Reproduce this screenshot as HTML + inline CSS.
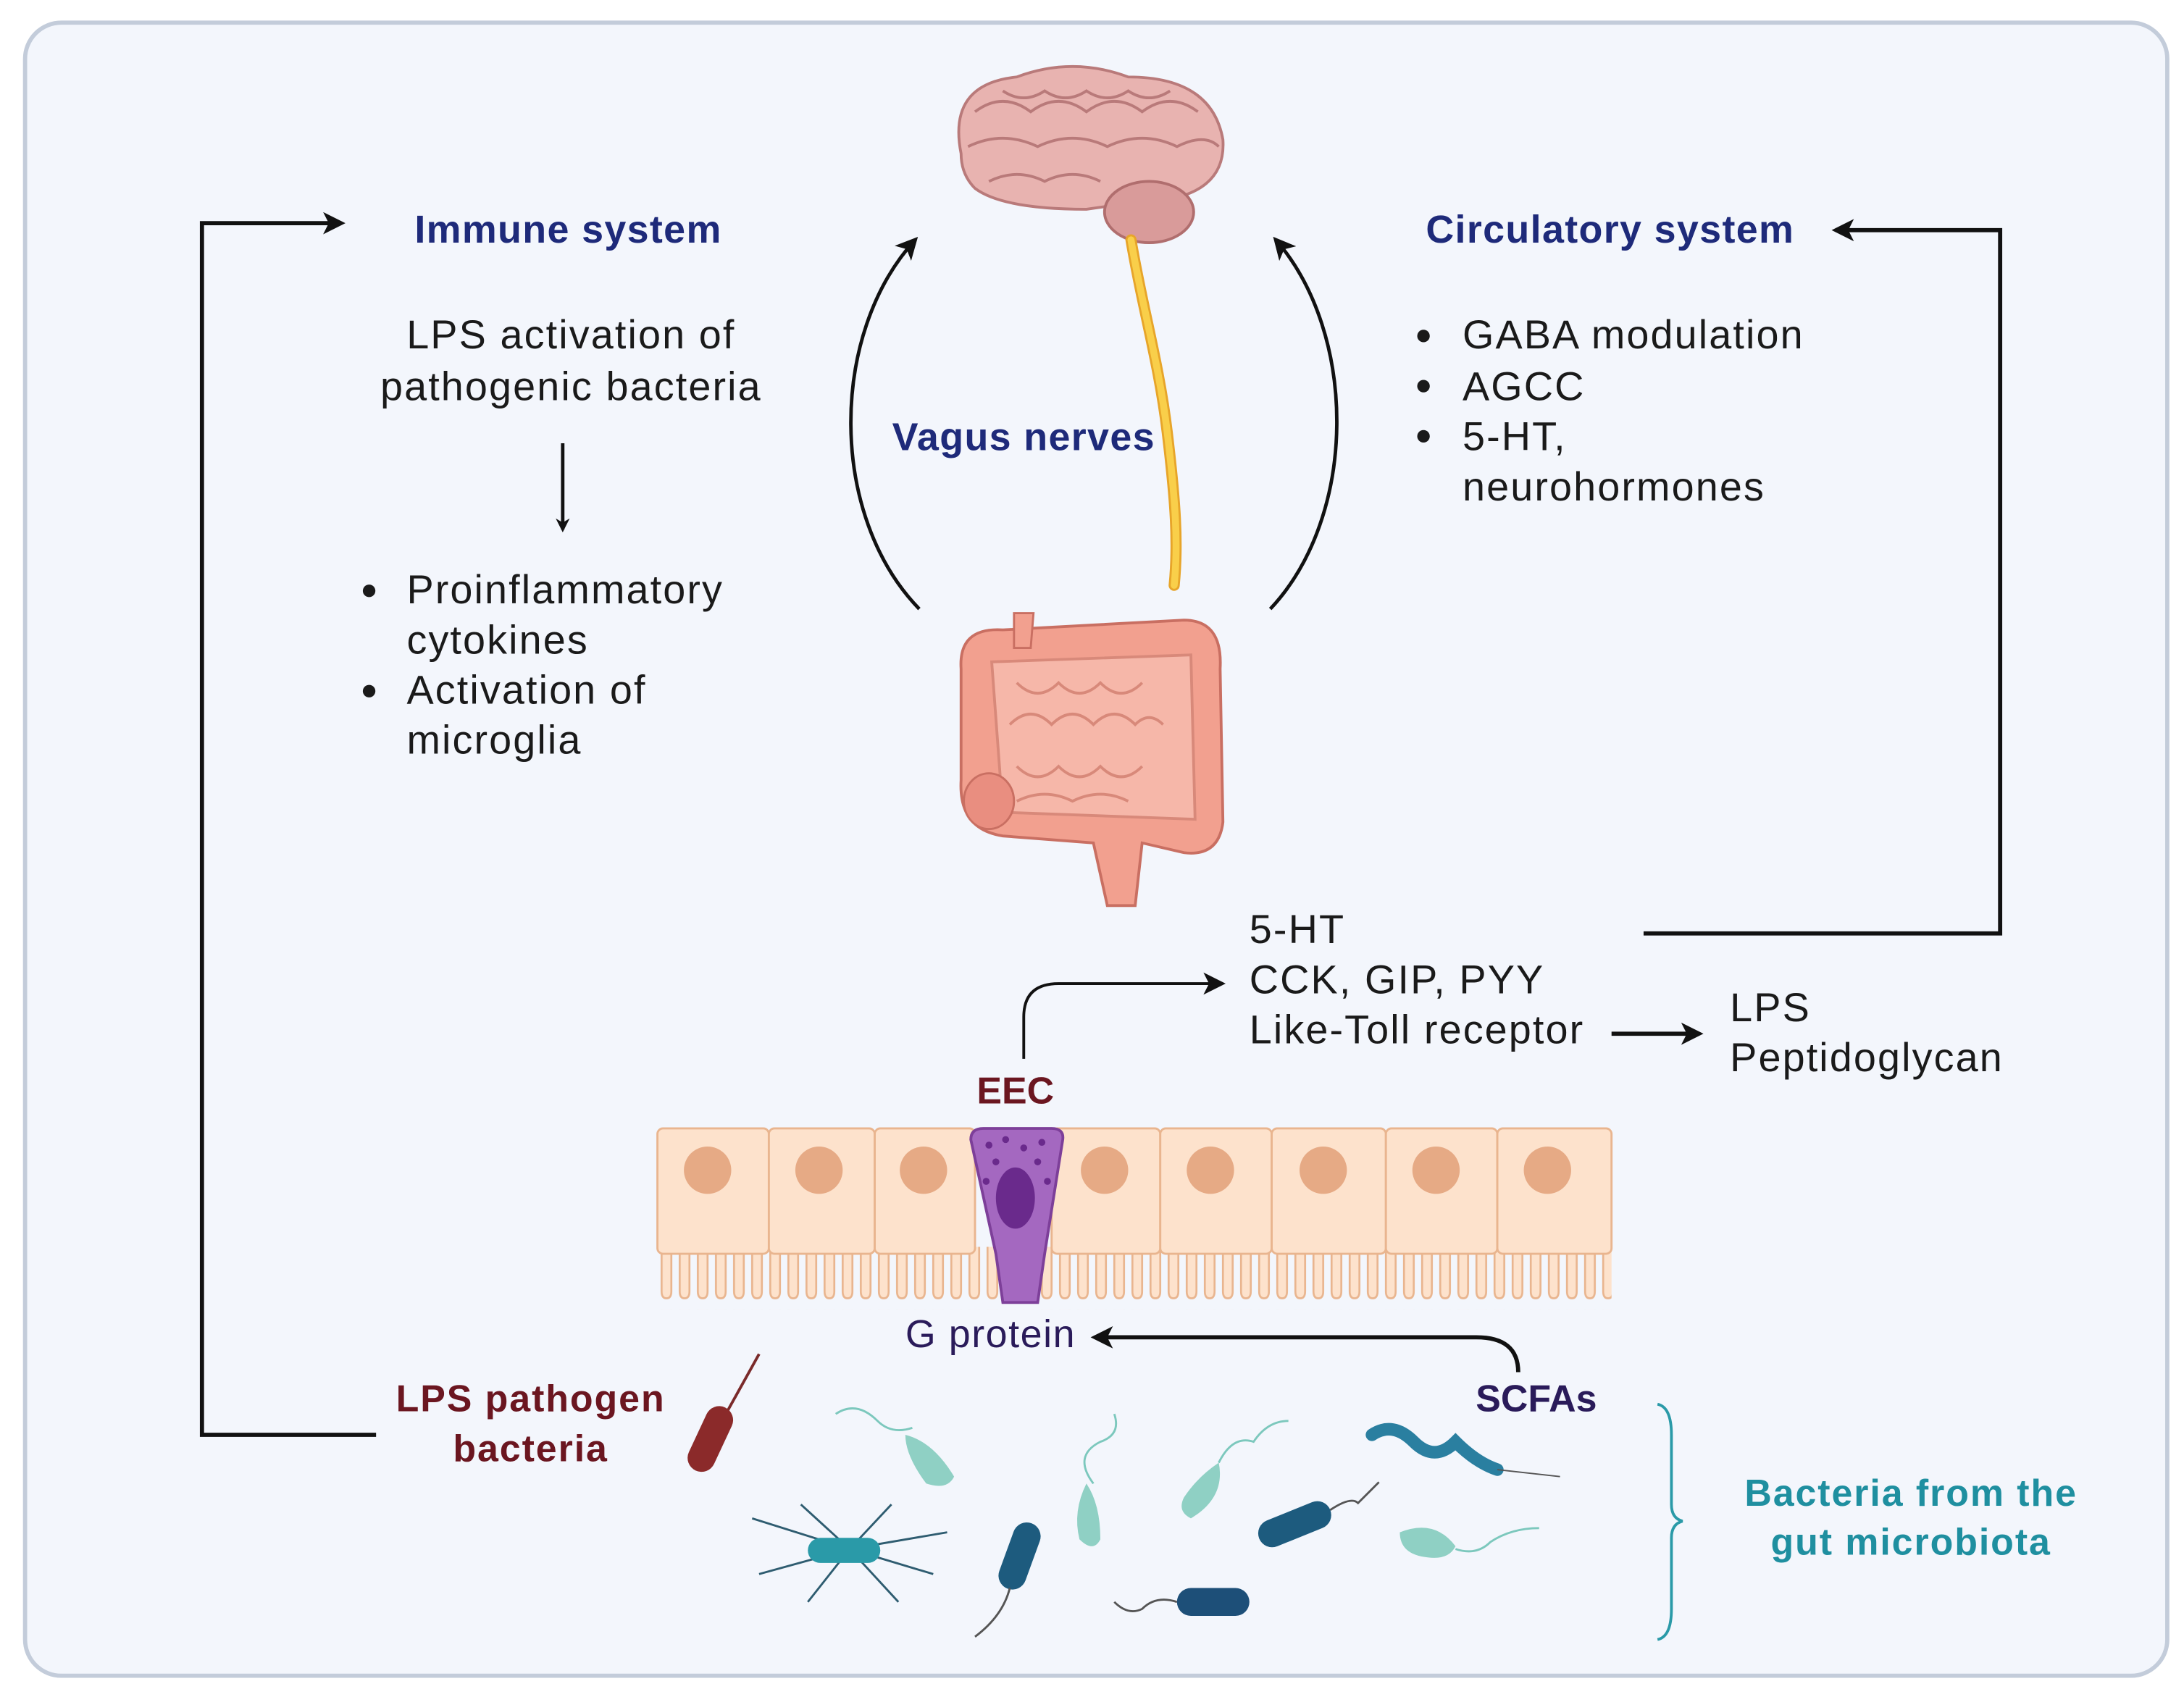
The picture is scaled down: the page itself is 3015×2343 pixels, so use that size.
<!DOCTYPE html>
<html><head><meta charset="utf-8"><style>
html,body{margin:0;padding:0;background:#fff}
svg{display:block}
text{font-family:"Liberation Sans",sans-serif}
</style></head><body>
<svg width="3015" height="2343" viewBox="0 0 1568 1218" xmlns="http://www.w3.org/2000/svg">
<defs>
<marker id="ah" markerWidth="10" markerHeight="10" refX="8" refY="5" orient="auto" markerUnits="userSpaceOnUse"><path d="M0,0 L10,5 L0,10 L3,5 Z" fill="#111"/></marker>
<marker id="ah2" markerWidth="16" markerHeight="16" refX="13" refY="8" orient="auto" markerUnits="userSpaceOnUse"><path d="M0,0 L16,8 L0,16 L4,8 Z" fill="#111"/></marker>
<pattern id="villi" x="472" y="895" width="13" height="45" patternUnits="userSpaceOnUse">
<path d="M3,0 L3,32 Q3,37 6.5,37 Q10,37 10,32 L10,0" fill="#fde2cc" stroke="#e9b58f" stroke-width="1.4"/>
</pattern>
</defs>
<rect x="18" y="16" width="1538" height="1187" rx="26" fill="#f3f6fc" stroke="#c3ccda" stroke-width="3"/>

<!-- brain -->
<path d="M690,110 Q680,60 730,55 Q770,40 810,55 Q870,55 878,100 Q880,130 850,140 L780,150 Q720,150 700,135 Q690,125 690,110Z" fill="#e8b3b0" stroke="#b97a7a" stroke-width="2"/>
<path d="M700,80 q20,-15 40,0 q20,-15 40,0 q20,-15 40,0 q20,-15 40,0 M695,105 q25,-12 50,0 q25,-12 50,0 q25,-12 50,0 q20,-10 30,0 M720,65 q15,10 30,0 q15,10 30,0 q15,10 30,0 q15,10 30,0 M710,130 q20,-10 40,0 q20,-10 40,0" fill="none" stroke="#b97a7a" stroke-width="2"/>
<ellipse cx="825" cy="152" rx="32" ry="22" fill="#d99b9a" stroke="#b06e6e" stroke-width="2"/>
<path d="M812,172 C820,220 832,260 838,310 C844,360 846,390 843,420" fill="none" stroke="#e7a52a" stroke-width="8" stroke-linecap="round"/>
<path d="M812,172 C820,220 832,260 838,310 C844,360 846,390 843,420" fill="none" stroke="#f9cf4a" stroke-width="5" stroke-linecap="round"/>

<!-- gut -->
<path d="M690,480 Q688,450 720,452 L850,445 Q878,445 876,480 L878,590 Q875,615 850,612 L820,605 L815,650 L795,650 L785,605 L720,600 Q688,595 690,560 Z" fill="#f2a08f" stroke="#c96f62" stroke-width="2"/>
<path d="M728,440 L742,440 L740,465 L728,465Z" fill="#f2a08f" stroke="#c96f62" stroke-width="1.5"/>
<path d="M712,475 L855,470 L858,588 L720,583 Z" fill="#f6b7a9" stroke="#d8897a" stroke-width="2"/>
<path d="M730,490 q15,15 30,0 q15,15 30,0 q15,15 30,0 M725,520 q15,-15 30,0 q15,-15 30,0 q15,-15 30,0 q10,-10 20,0 M730,550 q15,15 30,0 q15,15 30,0 q15,15 30,0 M730,575 q20,-10 40,0 q20,-10 40,0" fill="none" stroke="#d8897a" stroke-width="2"/>
<ellipse cx="710" cy="575" rx="18" ry="20" fill="#e98e80" stroke="#c96f62" stroke-width="1.5"/>

<!-- curved arrows -->
<path d="M660,437 C595,370 595,240 657,172" fill="none" stroke="#111" stroke-width="2.5" marker-end="url(#ah2)"/>
<path d="M912,437 C975,370 975,240 916,172" fill="none" stroke="#111" stroke-width="2.5" marker-end="url(#ah2)"/>

<!-- left/right connectors -->
<path d="M270,1030 L145,1030 L145,160 L245,160" fill="none" stroke="#111" stroke-width="3" marker-end="url(#ah2)"/>
<path d="M1180,670 L1436,670 L1436,165 L1318,165" fill="none" stroke="#111" stroke-width="3" marker-end="url(#ah2)"/>

<g font-weight="bold" fill="#1e2a7a" font-size="28" letter-spacing="0.7">
<text x="408" y="174" text-anchor="middle">Immune system</text>
<text x="1156" y="174" text-anchor="middle">Circulatory system</text>
<text x="735" y="323" text-anchor="middle">Vagus nerves</text>
</g>
<g fill="#1a1a1a" font-size="29" letter-spacing="1.1">
<text x="410" y="250" text-anchor="middle">LPS activation of</text>
<text x="410" y="287" text-anchor="middle">pathogenic bacteria</text>
<text x="292" y="433">Proinflammatory</text>
<text x="292" y="469">cytokines</text>
<text x="292" y="505">Activation of</text>
<text x="292" y="541">microglia</text>
<text x="1050" y="250">GABA modulation</text>
<text x="1050" y="287">AGCC</text>
<text x="1050" y="323">5-HT,</text>
<text x="1050" y="359">neurohormones</text>
<text x="897" y="677">5-HT</text>
<text x="897" y="713">CCK, GIP, PYY</text>
<text x="897" y="749">Like-Toll receptor</text>
<text x="1242" y="733">LPS</text>
<text x="1242" y="769">Peptidoglycan</text>
</g>
<g fill="#1a1a1a"><circle cx="265" cy="424" r="4.5"/><circle cx="265" cy="496" r="4.5"/><circle cx="1022" cy="241" r="4.5"/><circle cx="1022" cy="277" r="4.5"/><circle cx="1022" cy="313" r="4.5"/></g>
<line x1="404" y1="318" x2="404" y2="380" stroke="#111" stroke-width="2.5" marker-end="url(#ah)"/>
<path d="M735,760 L735,730 Q735,706 760,706 L877,706" fill="none" stroke="#111" stroke-width="2" marker-end="url(#ah2)"/>
<line x1="1157" y1="742" x2="1220" y2="742" stroke="#111" stroke-width="3" marker-end="url(#ah2)"/>

<text x="729" y="792" text-anchor="middle" font-weight="bold" font-size="27" fill="#6b1620">EEC</text>

<!-- epithelium -->
<rect x="472" y="895" width="685" height="45" fill="url(#villi)"/>
<g fill="#fde2cc" stroke="#e9b58f" stroke-width="1.5">
<rect x="472" y="810" width="80" height="90" rx="4"/>
<rect x="552" y="810" width="76" height="90" rx="4"/>
<rect x="628" y="810" width="72" height="90" rx="4"/>
<rect x="755" y="810" width="78" height="90" rx="4"/>
<rect x="833" y="810" width="80" height="90" rx="4"/>
<rect x="913" y="810" width="82" height="90" rx="4"/>
<rect x="995" y="810" width="80" height="90" rx="4"/>
<rect x="1075" y="810" width="82" height="90" rx="4"/>
</g>
<g fill="#e6aa85">
<circle cx="508" cy="840" r="17"/><circle cx="588" cy="840" r="17"/><circle cx="663" cy="840" r="17"/><circle cx="793" cy="840" r="17"/><circle cx="869" cy="840" r="17"/><circle cx="950" cy="840" r="17"/><circle cx="1031" cy="840" r="17"/><circle cx="1111" cy="840" r="17"/>
</g>
<path d="M697,818 Q697,810 706,810 L755,810 Q764,810 763,818 L750,900 L745,935 L720,935 L715,900 Z" fill="#a468c0" stroke="#7d3f99" stroke-width="2"/>
<ellipse cx="729" cy="860" rx="14" ry="22" fill="#6a2a8c"/>
<g fill="#6a2a8c"><circle cx="710" cy="822" r="2.5"/><circle cx="722" cy="818" r="2.5"/><circle cx="735" cy="824" r="2.5"/><circle cx="748" cy="820" r="2.5"/><circle cx="715" cy="834" r="2.5"/><circle cx="745" cy="834" r="2.5"/><circle cx="752" cy="848" r="2.5"/><circle cx="708" cy="848" r="2.5"/></g>

<text x="650" y="967" font-size="28" letter-spacing="0.8" fill="#2a1b5a">G protein</text>
<path d="M1090,985 Q1090,960 1060,960 L786,960" fill="none" stroke="#111" stroke-width="3" marker-end="url(#ah2)"/>
<text x="1103" y="1013" text-anchor="middle" font-weight="bold" font-size="27" fill="#2a1b5a">SCFAs</text>
<g font-weight="bold" font-size="27" fill="#6b1620" text-anchor="middle" letter-spacing="1">
<text x="381" y="1013">LPS pathogen</text><text x="381" y="1049">bacteria</text></g>
<g font-weight="bold" font-size="27" fill="#1f8fa0" text-anchor="middle" letter-spacing="1">
<text x="1372" y="1081">Bacteria from the</text><text x="1372" y="1116">gut microbiota</text></g>
<path d="M1190,1008 Q1200,1010 1200,1030 L1200,1080 Q1200,1090 1208,1092 Q1200,1094 1200,1104 L1200,1155 Q1200,1175 1190,1177" fill="none" stroke="#2a9aa8" stroke-width="2"/>

<!-- bacteria -->
<line x1="510" y1="1035" x2="545" y2="972" stroke="#7a2a2a" stroke-width="2"/>
<rect x="500" y="1008" width="20" height="50" rx="10" fill="#8b2a2a" transform="rotate(25 510 1033)"/>
<g stroke="#2e5c70" stroke-width="1.5" fill="none"><path d="M610,1112 L540,1090 M610,1112 L545,1130 M610,1112 L575,1080 M610,1112 L580,1150 M610,1112 L640,1080 M610,1112 L645,1150 M610,1112 L680,1100 M610,1112 L670,1130"/></g>
<rect x="580" y="1104" width="52" height="18" rx="9" fill="#2a9aa8"/>
<path d="M600,1015 q15,-10 30,5 q10,10 25,5" fill="none" stroke="#7cc8bd" stroke-width="1.5"/>
<path d="M650,1030 q20,5 35,30 q-5,10 -20,5 q-15,-20 -15,-35z" fill="#8fd0c4"/>
<rect x="722" y="1092" width="20" height="50" rx="10" fill="#1d5b7e" transform="rotate(20 732 1117)"/>
<path d="M725,1140 q-5,20 -25,35" fill="none" stroke="#555" stroke-width="1.5"/>
<path d="M780,1065 q10,15 10,40 q-5,10 -15,0 q-5,-20 5,-40z" fill="#8fd0c4"/>
<path d="M785,1065 q-15,-20 5,-30 q15,-5 10,-20" fill="none" stroke="#7cc8bd" stroke-width="1.5"/>
<path d="M875,1050 q5,25 -20,40 q-10,-5 -5,-15 q10,-15 25,-25z" fill="#8fd0c4"/>
<path d="M875,1050 q10,-20 25,-15 q10,-15 25,-15" fill="none" stroke="#7cc8bd" stroke-width="1.5"/>
<rect x="902" y="1084" width="55" height="20" rx="10" fill="#1d5b7e" transform="rotate(-22 930 1094)"/>
<path d="M955,1084 q15,-10 20,-5 q10,-10 15,-15" fill="none" stroke="#555" stroke-width="1.5"/>
<rect x="845" y="1140" width="52" height="20" rx="10" fill="#1d4f78"/>
<path d="M845,1150 q-15,-5 -25,5 q-10,5 -20,-5" fill="none" stroke="#555" stroke-width="1.5"/>
<path d="M985,1030 q15,-10 30,5 q15,15 30,0 q15,15 30,20" fill="none" stroke="#2a7fa0" stroke-width="9" stroke-linecap="round"/>
<path d="M1075,1055 l45,5" fill="none" stroke="#555" stroke-width="1"/>
<path d="M1005,1100 q25,-10 40,10 q-5,10 -20,8 q-20,-2 -20,-18z" fill="#8fd0c4"/>
<path d="M1045,1112 q15,5 25,-5 q15,-10 35,-10" fill="none" stroke="#7cc8bd" stroke-width="1.5"/>
</svg>
</body></html>
